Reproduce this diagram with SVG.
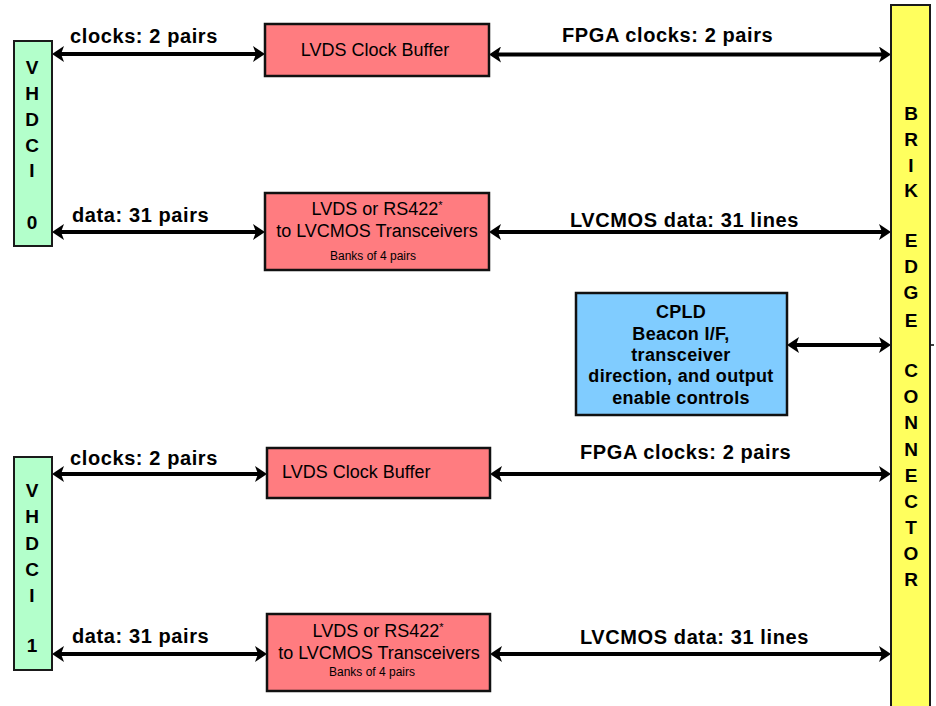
<svg xmlns="http://www.w3.org/2000/svg" width="936" height="706" viewBox="0 0 936 706">
<style>
  .bg{fill:#ffffff}
  .green{fill:#B3FFCB;stroke:#1a1a1a;stroke-width:2}
  .red{fill:#FF7C80;stroke:#111111;stroke-width:2.5}
  .blue{fill:#80CCFF;stroke:#111111;stroke-width:2.5}
  .yellow{fill:#FFFF5E;stroke:#1a1a1a;stroke-width:2}
  .vl{font-family:"Liberation Sans",Arial,sans-serif;font-weight:bold;font-size:19px;fill:#000;text-anchor:middle}
  .lbl{font-family:"Liberation Sans",Arial,sans-serif;font-weight:bold;font-size:20px;letter-spacing:0.6px;fill:#000}
  .bt{font-family:"Liberation Sans",Arial,sans-serif;font-size:18px;fill:#000}
  .sup{font-size:11px}
  .sm{font-family:"Liberation Sans",Arial,sans-serif;font-size:12px;fill:#000;text-anchor:middle}
  .cp{font-family:"Liberation Sans",Arial,sans-serif;font-weight:bold;font-size:18px;letter-spacing:0.3px;fill:#000;text-anchor:middle}
  .ln{fill:none;stroke:#000;stroke-width:4;marker-end:url(#ah)}
  .dbl{marker-start:url(#ah)}
</style>
<defs>
  <marker id="ah" viewBox="0 0 12 16" markerWidth="12" markerHeight="16" markerUnits="userSpaceOnUse" refX="3" refY="8" orient="auto-start-reverse">
    <path d="M0,0 L12,8 L0,16 L3,8 Z" fill="#000"/>
  </marker>
</defs>
<rect class="bg" x="0" y="0" width="936" height="706"/>

<g id="connectors">
  <path class="ln dbl" d="M61,54 L256,54"/>
  <path class="ln dbl" d="M61,232 L256,232"/>
  <path class="ln dbl" d="M498,54.5 L882,54.5"/>
  <path class="ln dbl" d="M498,232 L882,232"/>
  <path class="ln dbl" d="M796,345 L882,345"/>
  <path class="ln dbl" d="M61,474 L258,474"/>
  <path class="ln dbl" d="M61,654 L258,654"/>
  <path class="ln dbl" d="M499,474 L882,474"/>
  <path class="ln dbl" d="M499,654 L882,654"/>
  <line x1="929" y1="345" x2="934" y2="345" stroke="#000" stroke-width="1.5"/>
</g>

<g id="vhdci0">
  <rect class="green" x="14" y="41" width="38" height="205"/>
  <text class="vl" x="32" y="74">V</text>
  <text class="vl" x="32" y="100">H</text>
  <text class="vl" x="32" y="126">D</text>
  <text class="vl" x="32" y="152">C</text>
  <text class="vl" x="32" y="177">I</text>
  <text class="vl" x="32" y="229">0</text>
</g>

<g id="vhdci1">
  <rect class="green" x="14" y="457" width="38" height="213"/>
  <text class="vl" x="32" y="497">V</text>
  <text class="vl" x="32" y="523">H</text>
  <text class="vl" x="32" y="550">D</text>
  <text class="vl" x="32" y="576">C</text>
  <text class="vl" x="32" y="602">I</text>
  <text class="vl" x="32" y="652">1</text>
</g>

<g id="labels">
  <text class="lbl" x="70" y="43">clocks: 2 pairs</text>
  <text class="lbl" x="72" y="222">data: 31 pairs</text>
  <text class="lbl" x="562" y="42">FPGA clocks: 2 pairs</text>
  <text class="lbl" x="570" y="227">LVCMOS data: 31 lines</text>
  <text class="lbl" x="70" y="465">clocks: 2 pairs</text>
  <text class="lbl" x="72" y="643">data: 31 pairs</text>
  <text class="lbl" x="580" y="459">FPGA clocks: 2 pairs</text>
  <text class="lbl" x="580" y="644">LVCMOS data: 31 lines</text>
</g>

<g id="clockbuf0">
  <rect class="red" x="265" y="24" width="224" height="52"/>
  <text class="bt" x="375" y="56" text-anchor="middle">LVDS Clock Buffer</text>
</g>

<g id="xcvr0">
  <rect class="red" x="265" y="193" width="224" height="77"/>
  <text class="bt" x="377" y="215" text-anchor="middle">LVDS or RS422<tspan class="sup" dy="-6">*</tspan></text>
  <text class="bt" x="377" y="237" text-anchor="middle">to LVCMOS Transceivers</text>
  <text class="sm" x="373" y="260">Banks of 4 pairs</text>
</g>

<g id="cpld">
  <rect class="blue" x="576" y="293" width="211" height="122"/>
  <text class="cp" x="681" y="318">CPLD</text>
  <text class="cp" x="681" y="340">Beacon I/F,</text>
  <text class="cp" x="681" y="361">transceiver</text>
  <text class="cp" x="681" y="382">direction, and output</text>
  <text class="cp" x="681" y="404">enable controls</text>
</g>

<g id="clockbuf1">
  <rect class="red" x="267" y="448" width="223" height="50"/>
  <text class="bt" x="282" y="478">LVDS Clock Buffer</text>
</g>

<g id="xcvr1">
  <rect class="red" x="267" y="614" width="223" height="77"/>
  <text class="bt" x="378" y="637" text-anchor="middle">LVDS or RS422<tspan class="sup" dy="-6">*</tspan></text>
  <text class="bt" x="379" y="659" text-anchor="middle">to LVCMOS Transceivers</text>
  <text class="sm" x="372" y="676">Banks of 4 pairs</text>
</g>

<g id="edge_connector">
  <rect class="yellow" x="891" y="5" width="39" height="710"/>
  <text class="vl" x="911" y="120">B</text>
  <text class="vl" x="911" y="146">R</text>
  <text class="vl" x="911" y="172">I</text>
  <text class="vl" x="911" y="197">K</text>
  <text class="vl" x="911" y="247">E</text>
  <text class="vl" x="911" y="273">D</text>
  <text class="vl" x="911" y="299">G</text>
  <text class="vl" x="911" y="327">E</text>
  <text class="vl" x="911" y="377">C</text>
  <text class="vl" x="911" y="403">O</text>
  <text class="vl" x="911" y="429">N</text>
  <text class="vl" x="911" y="456">N</text>
  <text class="vl" x="911" y="482">E</text>
  <text class="vl" x="911" y="508">C</text>
  <text class="vl" x="911" y="534">T</text>
  <text class="vl" x="911" y="560">O</text>
  <text class="vl" x="911" y="586">R</text>
</g>
</svg>
